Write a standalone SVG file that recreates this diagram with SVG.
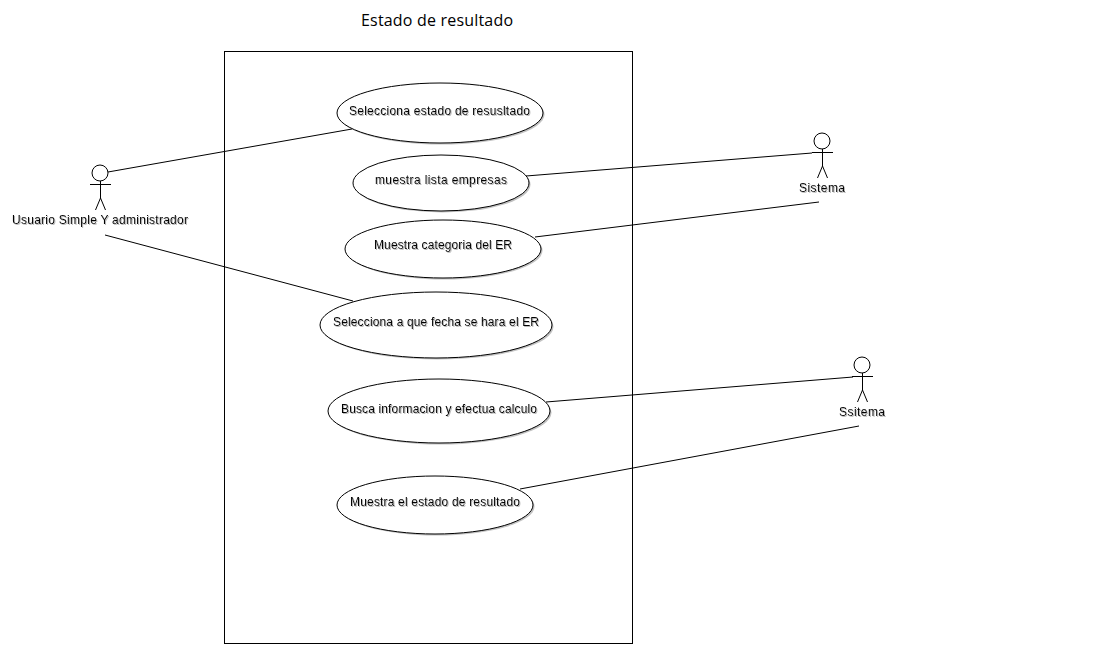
<svg xmlns="http://www.w3.org/2000/svg" width="1100" height="647" viewBox="0 0 1100 647">
<style>
.ln{fill:none;stroke:#000;stroke-width:1}
.uc{fill:#fff;stroke:#000;stroke-width:1}
.sh{fill:#999;fill-opacity:.6;stroke:none}
text{font-family:"Liberation Sans",Arial,sans-serif;font-size:12px;fill:#000;text-anchor:start;filter:url(#ts)}
.title{font-family:"Open Sans","Noto Sans",sans-serif;font-size:16px;filter:none}
</style>
<defs>
<filter id="ts" x="-5%" y="-30%" width="110%" height="160%"><feDropShadow dx="1" dy="1" stdDeviation="0.5" flood-color="#888" flood-opacity="0.6"/></filter>
<g id="actor" class="ln"><circle cx="0" cy="0" r="8" fill="#fff"/><path d="M0.500 8V25M-10 11.500H11M0.500 25L-4.500 37M0.500 25L5.500 37"/></g>
</defs>
<rect width="1100" height="647" fill="#fff"/>
<text class="title" x="361" y="26" textLength="152">Estado de resultado</text>
<rect id="system" x="224.500" y="51.500" width="408" height="592" fill="#fff" stroke="#000" stroke-width="1"/>
<g id="connectors" class="ln">
<path d="M108 172L352 129"/>
<path d="M105 235L353 301"/>
<path d="M526 176L812 153"/>
<path d="M535 237L819 202"/>
<path d="M546 402L853 377"/>
<path d="M520 489L859 426"/>
</g>
<g id="uc1"><ellipse class="sh" cx="441.500" cy="114.500" rx="103" ry="30"/><ellipse class="uc" cx="440" cy="113" rx="103" ry="30"/><text x="349" y="115" textLength="181">Selecciona estado de resusltado</text></g>
<g id="uc2"><ellipse class="sh" cx="442.500" cy="184.500" rx="88" ry="28"/><ellipse class="uc" cx="441" cy="183" rx="88" ry="28"/><text x="375" y="184" textLength="132">muestra lista empresas</text></g>
<g id="uc3"><ellipse class="sh" cx="444.500" cy="250.500" rx="98" ry="29"/><ellipse class="uc" cx="443" cy="249" rx="98" ry="29"/><text x="374" y="249" textLength="138">Muestra categoria del ER</text></g>
<g id="uc4"><ellipse class="sh" cx="437.500" cy="326.500" rx="116" ry="33"/><ellipse class="uc" cx="436" cy="325" rx="116" ry="33"/><text x="333" y="326" textLength="206">Selecciona a que fecha se hara el ER</text></g>
<g id="uc5"><ellipse class="sh" cx="440.500" cy="412.500" rx="111" ry="32"/><ellipse class="uc" cx="439" cy="411" rx="111" ry="32"/><text x="341" y="413" textLength="196">Busca informacion y efectua calculo</text></g>
<g id="uc6"><ellipse class="sh" cx="436.500" cy="506.500" rx="98" ry="29"/><ellipse class="uc" cx="435" cy="505" rx="98" ry="29"/><text x="350" y="506" textLength="170">Muestra el estado de resultado</text></g>
<g id="actor1"><use href="#actor" x="100" y="173"/><text x="12" y="224" textLength="176">Usuario Simple Y administrador</text></g>
<g id="actor2"><use href="#actor" x="822" y="141"/><text x="799" y="192" textLength="46">Sistema</text></g>
<g id="actor3"><use href="#actor" x="862" y="365"/><text x="839" y="416" textLength="46">Ssitema</text></g>
</svg>
